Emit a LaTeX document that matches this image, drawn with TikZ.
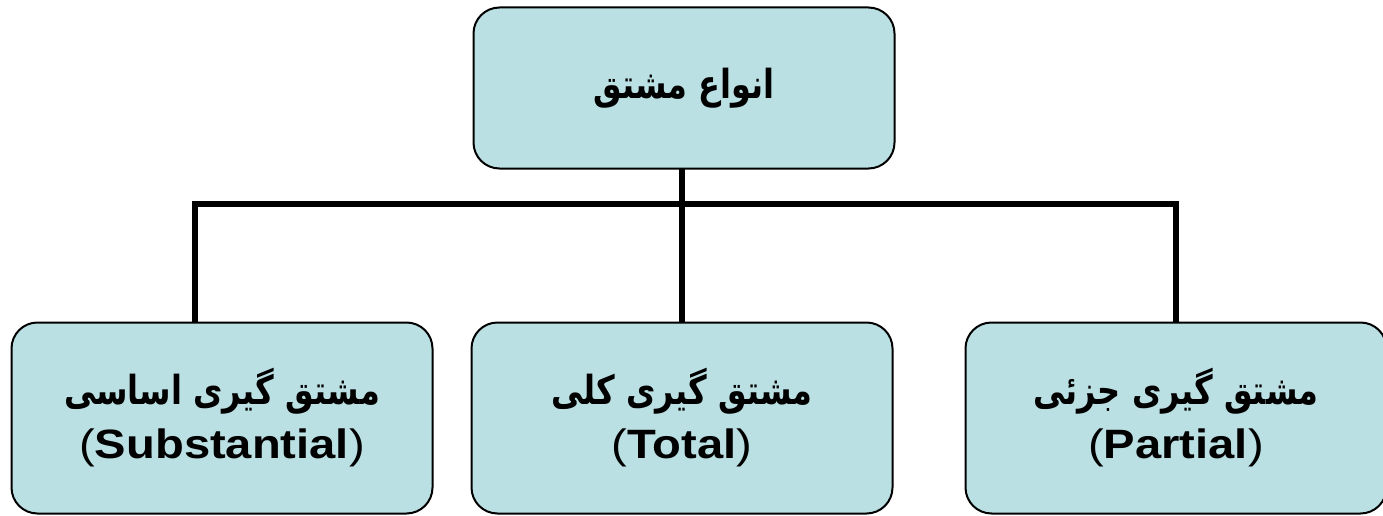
\documentclass[tikz,border=0pt]{standalone}
\usepackage{fontspec}
\usetikzlibrary{backgrounds}
\setmainfont{Liberation Sans}
\newfontfamily\arabicfont[Script=Arabic]{DejaVu Sans}
\TeXXeTstate=1
\definecolor{boxfill}{RGB}{187,224,227}
\tikzset{
  catbox/.style={draw=black, line width=2pt, fill=boxfill, rounded corners=26pt,
    minimum width=421pt, minimum height=191pt, align=center, inner sep=0pt,
    font=\fontsize{32}{54}\selectfont},
  topbox/.style={catbox, minimum height=161pt},
  link/.style={line width=6pt, line cap=rect}
}
% Persian label: bold, slightly taller than the font's own proportions
\newcommand{\fa}[1]{\scalebox{1}[1.25]{\arabicfont\bfseries\beginR #1\endR}}
% Latin label in parentheses
\newcommand{\la}[1]{\scalebox{1.15}[1]{\fontsize{41}{54}\selectfont(\textbf{#1})}}
\begin{document}
\begin{tikzpicture}[x=1pt,y=-1pt]
  \useasboundingbox (0,0) rectangle (1383,516);
  % root
  \node[topbox] (root) at (684,88) {\raisebox{-6pt}{\fa{انواع مشتق}}};
  % children
  \node[catbox] (subst) at (222,418) {\fa{مشتق گیری اساسی}\\ \la{Substantial}};
  \node[catbox] (total) at (682,418) {\fa{مشتق گیری کلی}\\ \la{Total}};
  \node[catbox] (part) at (1176,418) {\fa{مشتق گیری جزئی}\\ \la{Partial}};
  % connectors behind the boxes
  \begin{scope}[on background layer]
    \coordinate (bus) at (0,204);
    \draw[link] ([xshift=-2pt]root.south) -- ([xshift=-2pt]root.south |- bus);
    \draw[link] ([xshift=-27pt]subst.north) |- (part.north |- bus) -- (part.north);
    \draw[link] (total.north) -- (total.north |- bus);
  \end{scope}
\end{tikzpicture}
\end{document}
